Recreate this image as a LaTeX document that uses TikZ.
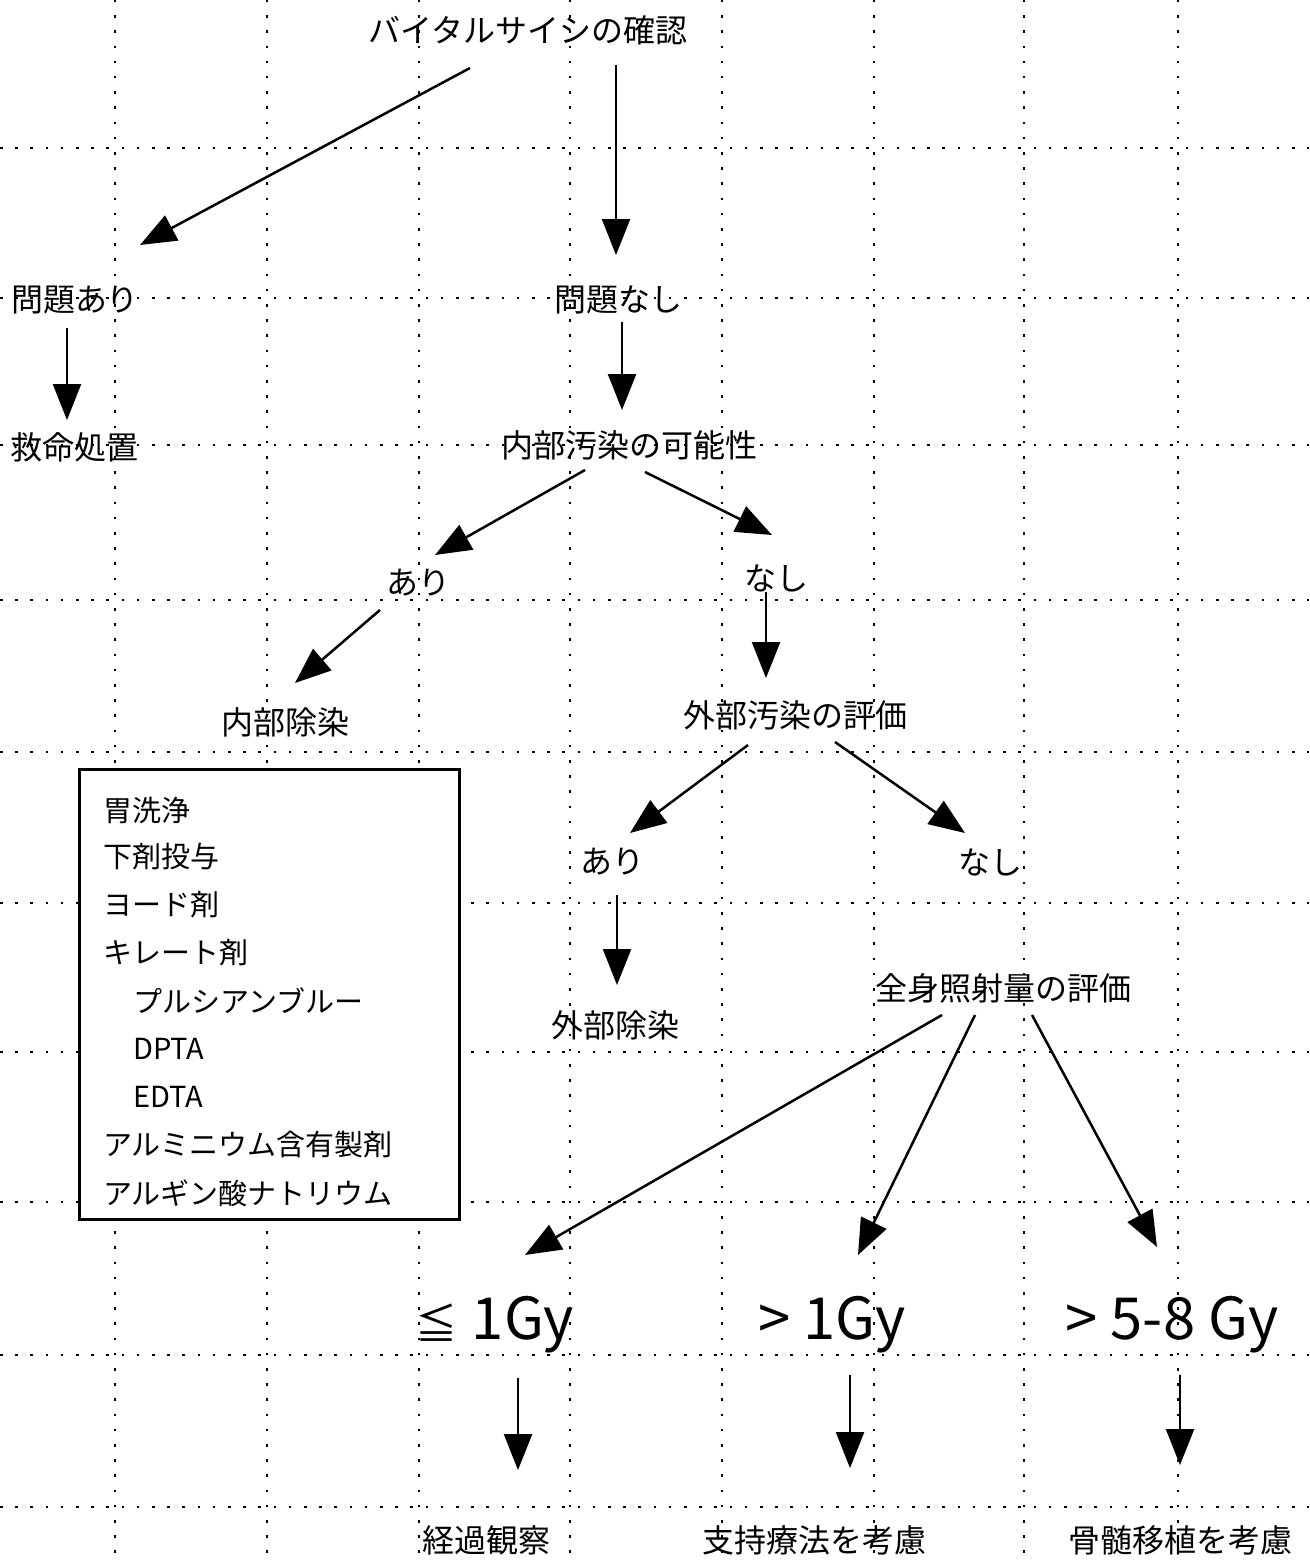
\documentclass[tikz,border=0pt]{standalone}
\usepackage{fontspec}
\newfontfamily\jp{Noto Sans CJK JP}
\usetikzlibrary{arrows.meta,calc}
\begin{document}
\begin{tikzpicture}[x=1pt,y=-1pt,
  gridline/.style={line width=2.5pt,dash pattern=on 2.5pt off 12.7pt},
  lbl/.style={font=\jp\fontsize{32}{36}\selectfont,inner sep=0pt},
  biglbl/.style={font=\jp\fontsize{58}{64}\selectfont,inner sep=0pt},
  itemlbl/.style={font=\jp\fontsize{29}{34}\selectfont,inner sep=0pt,anchor=west},
  arr/.style={line width=2.5pt,-{Triangle[length=36pt,width=28pt]}},
  listbox/.style={draw,line width=2.5pt,fill=white,inner sep=0pt}]
\useasboundingbox (0,0) rectangle (1309,1563);
% dotted grid
\foreach \gx in {115,267,419,570,722,874,1024,1178}
  \draw[gridline] (\gx,0) -- (\gx,1563);
\foreach \gy in {148,298,445,600,752,903,1052,1202,1355,1507}
  \draw[gridline] (0,\gy) -- (1309,\gy);
% list box
\node[listbox,minimum width=380pt,minimum height=450pt,anchor=north west] (box) at (78,768) {};
\node[itemlbl] (m1) at (103,810) {胃洗浄};
\node[itemlbl] (m2) at (103,857) {下剤投与};
\node[itemlbl] (m3) at (103,905) {ヨード剤};
\node[itemlbl] (m4) at (103,953) {キレート剤};
\node[itemlbl] (m5) at (133,1001) {プルシアンブルー};
\node[itemlbl] (m6) at (133,1049) {DPTA};
\node[itemlbl] (m7) at (133,1097) {EDTA};
\node[itemlbl] (m8) at (103,1145) {アルミニウム含有製剤};
\node[itemlbl] (m9) at (103,1193) {アルギン酸ナトリウム};
% labels
\node[lbl] (vital) at (528,30) {バイタルサイシの確認};
\node[lbl] (prob1) at (75,300) {問題あり};
\node[lbl] (prob0) at (618,300) {問題なし};
\node[lbl] (rescue) at (74,447) {救命処置};
\node[lbl] (internal) at (629,445) {内部汚染の可能性};
\node[lbl] (ari1) at (418,583) {あり};
\node[lbl] (nashi1) at (776,578) {なし};
\node[lbl] (intdecon) at (285,722) {内部除染};
\node[lbl] (exteval) at (795,715) {外部汚染の評価};
\node[lbl] (ari2) at (612,862) {あり};
\node[lbl] (nashi2) at (990,862) {なし};
\node[lbl] (extdecon) at (615,1025) {外部除染};
\node[lbl] (wbeval) at (1003,988) {全身照射量の評価};
\node[biglbl] (d1) at (495,1325) {{\fontsize{42}{48}\selectfont ≦}\hspace{14pt}1Gy};
\node[biglbl] (d2) at (832,1325) {> 1Gy};
\node[biglbl] (d3) at (1172,1325) {> 5-8 Gy};
\node[lbl] (r1) at (486,1540) {経過観察};
\node[lbl] (r2) at (814,1540) {支持療法を考慮};
\node[lbl] (r3) at (1180,1540) {骨髄移植を考慮};
% connectors
\draw[arr] ($(vital)+(-58,38)$) -- ($(prob1)+(65,-55)$);
\draw[arr] ($(vital)+(88,35)$) -- ($(prob0)+(-2,-45)$);
\draw[arr] ($(prob1)+(-8,28)$) -- ($(rescue)+(-7,-27)$);
\draw[arr] ($(prob0)+(4,22)$) -- ($(internal)+(-7,-35)$);
\draw[arr] ($(internal)+(-44,25)$) -- ($(ari1)+(17,-28)$);
\draw[arr] ($(internal)+(16,27)$) -- ($(nashi1)+(-4,-43)$);
\draw[arr] ($(ari1)+(-38,27)$) -- ($(intdecon)+(10,-39)$);
\draw[arr] ($(nashi1)+(-10,14)$) -- ($(exteval)+(-29,-37)$);
\draw[arr] ($(exteval)+(-47,30)$) -- ($(ari2)+(18,-29)$);
\draw[arr] ($(exteval)+(40,27)$) -- ($(nashi2)+(-25,-29)$);
\draw[arr] ($(ari2)+(5,33)$) -- ($(extdecon)+(2,-40)$);
\draw[arr] ($(wbeval)+(-61,27)$) -- ($(d1)+(30,-70)$);
\draw[arr] ($(wbeval)+(-28,27)$) -- ($(d2)+(26,-70)$);
\draw[arr] ($(wbeval)+(29,27)$) -- ($(d3)+(-15,-78)$);
\draw[arr] ($(d1)+(23,53)$) -- ($(r1)+(32,-70)$);
\draw[arr] ($(d2)+(18,50)$) -- ($(r2)+(36,-72)$);
\draw[arr] ($(d3)+(8,50)$) -- ($(r3)+(0,-75)$);
\end{tikzpicture}
\end{document}
